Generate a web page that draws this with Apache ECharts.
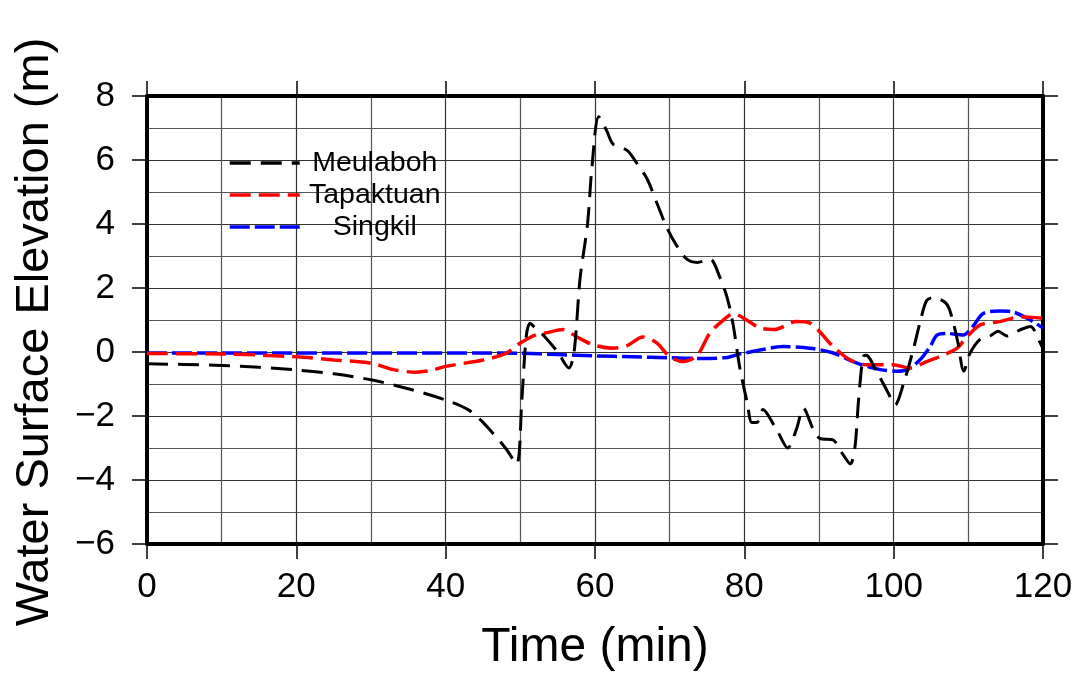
<!DOCTYPE html>
<html>
<head>
<meta charset="utf-8">
<script src="https://cdn.jsdelivr.net/npm/echarts@6/dist/echarts.min.js"></script>
<style>
html,body{margin:0;padding:0;background:#fff;}
#chart{width:1079px;height:673px;}
</style>
</head>
<body>
<div id="chart"></div>
<script>
var seriesNames = ['Meulaboh', 'Tapaktuan', 'Singkil'];

var meulabohT = [0, 5, 10, 15, 20, 25, 30, 35, 40, 43, 45, 48, 49.5, 50.2, 50.8, 51.3, 52, 53, 55, 56.5, 57.2, 58, 59, 59.6, 60.5, 61.6, 62.4, 64.3, 65.6, 67, 68.3, 69.6, 71, 72.3, 73.7, 75.4, 76.7, 77.7, 78.5, 79.4, 80.4, 81, 81.7, 82.5, 84, 84.5, 85.8, 87, 87.9, 89.2, 90.1, 91.9, 93.2, 94.2, 94.8, 95.3, 95.9, 96.3, 97.8, 99.1, 100.2, 101.3, 102.6, 103.5, 104.4, 105.3, 107.1, 108, 108.6, 109.4, 110.2, 111.6, 112.9, 114, 115.2, 117, 118.3, 119.6, 120];
var meulabohV = [-0.37, -0.39, -0.42, -0.48, -0.56, -0.68, -0.87, -1.15, -1.5, -1.8, -2.2, -3.0, -3.5, -1.5, 0.5, 0.9, 0.75, 0.55, 0.0, -0.5, 0.0, 2.3, 4.0, 5.8, 7.35, 6.9, 6.5, 6.3, 5.9, 5.4, 4.65, 3.9, 3.3, 2.9, 2.8, 2.9, 2.35, 1.7, 0.85, -0.5, -1.6, -2.2, -2.2, -1.8, -2.3, -2.5, -3.0, -2.4, -1.75, -2.4, -2.7, -2.75, -3.2, -3.5, -3.0, -1.5, -0.15, -0.1, -0.65, -1.2, -1.65, -1.0, 0.05, 0.9, 1.6, 1.7, 1.5, 0.9, 0.3, -0.6, -0.05, 0.4, 0.5, 0.65, 0.5, 0.7, 0.8, 0.3, 0.1];

var tapaktuanT = [0, 10, 20, 25, 30, 33, 36, 38, 40, 45, 48, 50, 52, 53.5, 55.7, 57.6, 59.8, 62.4, 64.3, 66.4, 68.3, 70, 71.8, 73.7, 75.4, 77.2, 78.5, 80.3, 82.1, 84, 87, 88.8, 90.1, 91.9, 94.2, 96.4, 99.9, 102.2, 104.4, 106.6, 108.5, 109.8, 111.6, 114.2, 117, 120];
var tapaktuanV = [-0.05, -0.06, -0.15, -0.25, -0.35, -0.55, -0.63, -0.58, -0.45, -0.25, -0.05, 0.28, 0.53, 0.6, 0.7, 0.47, 0.22, 0.12, 0.2, 0.47, 0.28, -0.15, -0.3, -0.1, 0.6, 1.0, 1.2, 1.0, 0.75, 0.7, 0.95, 0.9, 0.63, 0.17, -0.25, -0.4, -0.4, -0.5, -0.3, -0.1, 0.12, 0.47, 0.85, 0.95, 1.1, 1.05];

var singkilT = [0, 10, 20, 30, 40, 45, 50, 55, 60, 65, 70, 74, 77.7, 79.4, 80.8, 82.5, 85.2, 88.8, 91.9, 95.1, 98.2, 100.5, 101.8, 103.5, 104.9, 105.8, 107.1, 109.3, 110.6, 112, 114.2, 116, 118.3, 120];
var singkilV = [-0.03, -0.03, -0.03, -0.03, -0.03, -0.03, -0.04, -0.08, -0.12, -0.15, -0.18, -0.2, -0.17, -0.06, 0.0, 0.08, 0.17, 0.12, -0.03, -0.35, -0.55, -0.6, -0.55, -0.25, 0.17, 0.53, 0.58, 0.53, 0.8, 1.2, 1.28, 1.25, 1.0, 0.75];

var xTicks = [0, 20, 40, 60, 80, 100, 120];
var yTicks = [-6, -4, -2, 0, 2, 4, 6, 8];

function pairs(t, v) { return t.map(function (x, i) { return [x, v[i]]; }); }

var FONT = "'Liberation Sans', Arial, Helvetica, sans-serif";
var chart = echarts.init(document.getElementById('chart'), null, {renderer: 'canvas'});

var gridLine = {show: true, lineStyle: {color: '#333', width: 1.2}};
var minorLine = {show: true, lineStyle: {color: '#555', width: 1.2}};

var xBase = {
  type: 'value', min: xTicks[0], max: xTicks[xTicks.length - 1], interval: 20,
  axisLine: {show: true, onZero: false, lineStyle: {color: '#000', width: 4}},
  axisTick: {show: true, inside: false, length: 15, lineStyle: {color: '#000', width: 1.5}},
  minorTick: {show: false, splitNumber: 2},
  splitLine: {show: false}, minorSplitLine: {show: false}
};
var yBase = {
  type: 'value', min: yTicks[0], max: yTicks[yTicks.length - 1], interval: 2,
  axisLine: {show: true, onZero: false, lineStyle: {color: '#000', width: 4}},
  axisTick: {show: true, inside: false, length: 15, lineStyle: {color: '#000', width: 1.5}},
  minorTick: {show: false, splitNumber: 2},
  splitLine: {show: false}, minorSplitLine: {show: false}
};

var option = {
  backgroundColor: '#fff',
  animation: false,
  grid: {left: 147, right: 36, top: 96, bottom: 129, containLabel: false, outerBoundsMode: 'none'},
  legend: {
    show: true, orient: 'vertical', left: 223, top: 142,
    itemWidth: 70, itemHeight: 32, itemGap: 0,
    data: seriesNames,
    itemStyle: {color: 'rgba(0,0,0,0)', borderWidth: 0, opacity: 0},
    lineStyle: {width: 3.5},
    formatter: function (n) { return '{a|' + n + '}'; },
    textStyle: {
      fontSize: 28.5, lineHeight: 32, fontFamily: FONT, color: '#000',
      rich: {a: {width: 140, align: 'center', fontSize: 28.5, lineHeight: 32, height: 32, fontFamily: FONT, color: '#000'}}
    }
  },
  xAxis: [
    Object.assign({}, xBase, {
      position: 'bottom',
      splitLine: gridLine, minorSplitLine: minorLine,
      name: 'Time (min)', nameLocation: 'middle', nameGap: 80,
      nameTextStyle: {fontSize: 48, fontFamily: FONT, color: '#000'},
      axisLabel: {show: true, margin: 26, fontSize: 35, fontFamily: FONT, color: '#000'}
    }),
    Object.assign({}, xBase, {position: 'top', axisLabel: {show: false}})
  ],
  yAxis: [
    Object.assign({}, yBase, {
      position: 'left',
      splitLine: gridLine, minorSplitLine: minorLine,
      name: 'Water Surface Elevation (m)', nameLocation: 'middle', nameGap: 88,
      nameTextStyle: {fontSize: 47, fontFamily: FONT, color: '#000', padding: [0, 24, 0, 0]},
      axisLabel: {show: true, margin: 32, fontSize: 35, fontFamily: FONT, color: '#000',
        formatter: function (v) { return v < 0 ? '\u2212' + Math.abs(v) : String(v); }}
    }),
    Object.assign({}, yBase, {position: 'right', axisLabel: {show: false}})
  ],
  series: [
    {name: seriesNames[0], type: 'line', xAxisIndex: 0, yAxisIndex: 0, data: pairs(meulabohT, meulabohV),
     symbol: 'none', smooth: 0.3, color: '#000', lineStyle: {color: '#000', width: 3, type: [21, 10]}, z: 5},
    {name: seriesNames[1], type: 'line', xAxisIndex: 0, yAxisIndex: 0, data: pairs(tapaktuanT, tapaktuanV),
     symbol: 'none', smooth: 0.3, color: '#ff0000', lineStyle: {color: '#ff0000', width: 3.5, type: [21, 8]}, z: 4},
    {name: seriesNames[2], type: 'line', xAxisIndex: 0, yAxisIndex: 0, data: pairs(singkilT, singkilV),
     symbol: 'none', smooth: 0.3, color: '#0000ff', lineStyle: {color: '#0000ff', width: 3.5, type: [20, 5]}, z: 3}
  ]
};
chart.setOption(option);
</script>
</body>
</html>
